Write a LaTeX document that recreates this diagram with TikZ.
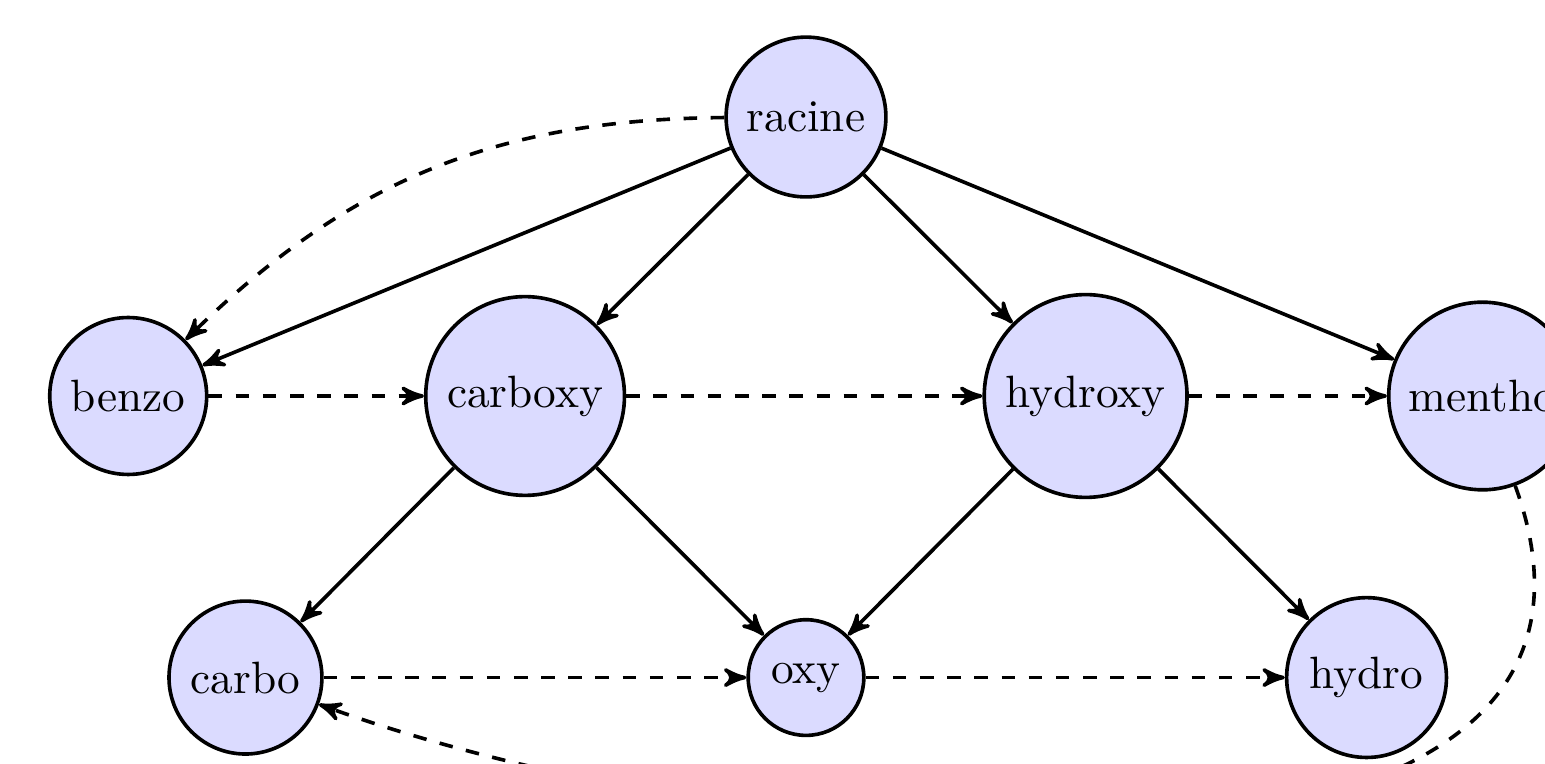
\documentclass[tikz,border=0pt]{standalone}
\usepackage{amsmath,amsfonts,amssymb}
\usetikzlibrary{arrows}
\tikzset{
   molecule/.style={circle, draw=black, thick, fill=blue!14},
   heritage/.style={->, thick, draw=black},
   voisin/.style={->, thick, dashed, draw=black},
   }
\begin{document}
\begin{tikzpicture}[>=stealth']
            \useasboundingbox (-6.255,-5.02) rectangle (5.735,0.908);
            \node[molecule] (racine) at (0,0) {racine};
            \node[molecule] (benzo) at (-5.26,-2.165) {benzo};
            \node[molecule] (carboxy) at (-2.18,-2.165) {carboxy};
            \node[molecule] (hydroxy) at (2.17,-2.165) {hydroxy};
            \node[molecule] (mentho) at (5.25,-2.165) {mentho};
            \node[molecule] (carbo) at (-4.35,-4.35) {carbo};
            \node[molecule] (oxy) at (0,-4.35) {oxy};
            \node[molecule] (hydro) at (4.35,-4.35) {hydro};
            % liens de filiation
            \draw[heritage] (racine) to (benzo);
            \draw[heritage] (racine) to (carboxy);
            \draw[heritage] (racine) to (hydroxy);
            \draw[heritage] (racine) to (mentho);
            \draw[heritage] (carboxy) to (carbo);
            \draw[heritage] (carboxy) to (oxy);
            \draw[heritage] (hydroxy) to (oxy);
            \draw[heritage] (hydroxy) to (hydro);
            % liens entre voisins
            \draw[voisin] (racine) to[bend right=22] (benzo);
            \draw[voisin] (benzo) to (carboxy);
            \draw[voisin] (carboxy) to (hydroxy);
            \draw[voisin] (hydroxy) to (mentho);
            \draw[voisin] (carbo) to (oxy);
            \draw[voisin] (oxy) to (hydro);
            \draw[voisin] (mentho) to[out=-70, in=-20] (carbo);
        \end{tikzpicture}
\end{document}
